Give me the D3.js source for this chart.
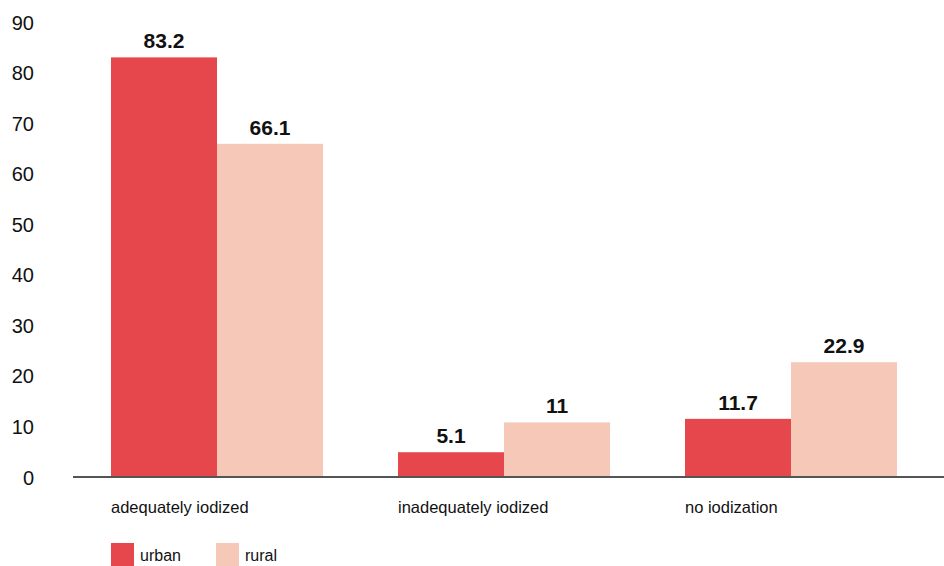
<!DOCTYPE html>
<html>
<head>
<meta charset="utf-8">
<script src="https://cdn.jsdelivr.net/npm/d3@7"></script>
<style>
  html, body { margin: 0; padding: 0; background: #fff; }
  svg { display: block; }
  text { font-family: "Liberation Sans", Arial, sans-serif; fill: #111; }
</style>
</head>
<body>
<svg id="chart" width="944" height="566"></svg>
<script>
// Salt iodization by residence (%)
const categories = ["adequately iodized", "inadequately iodized", "no iodization"];
const seriesNames = ["urban", "rural"];
const urban = [83.2, 5.1, 11.7];
const rural = [66.1, 11, 22.9];
const yTicks = [0, 10, 20, 30, 40, 50, 60, 70, 80, 90];
const colors = ["#e6474d", "#f6c8b8"];

const svg = d3.select("#chart");
const W = 944;

const x0 = d3.scaleBand().domain(categories).range([111, 111 + 287 * 3]).paddingInner(0).paddingOuter(0);
const x1 = d3.scaleBand().domain(seriesNames).range([0, 212]);
const y = d3.scaleLinear().domain([0, 90]).range([478, 23]);

// y axis labels (no line, no ticks)
const yAxis = d3.axisLeft(y).tickValues(yTicks).tickSize(0).tickPadding(0);
const gy = svg.append("g").attr("transform", "translate(34,0)").call(yAxis);
gy.select(".domain").remove();
gy.selectAll("text")
  .attr("font-family", "Liberation Sans, Arial, sans-serif")
  .attr("font-size", 20)
  .attr("fill", "#2a2a2a")
  .attr("dy", "0.3em");

// bars
const rows = categories.map((c, i) => ({ cat: c, values: [urban[i], rural[i]] }));
const groups = svg.append("g").selectAll("g").data(rows).join("g")
  .attr("transform", d => `translate(${x0(d.cat)},0)`);

groups.selectAll("rect").data(d => d.values.map((v, j) => ({ key: seriesNames[j], v, j })))
  .join("rect")
  .attr("x", d => x1(d.key))
  .attr("width", x1.bandwidth())
  .attr("y", d => y(d.v))
  .attr("height", d => y(0) - y(d.v))
  .attr("fill", d => colors[d.j]);

groups.selectAll("text.val").data(d => d.values.map((v, j) => ({ key: seriesNames[j], v, j })))
  .join("text")
  .attr("class", "val")
  .attr("x", d => x1(d.key) + x1.bandwidth() / 2)
  .attr("y", d => y(d.v) - 9)
  .attr("text-anchor", "middle")
  .attr("font-size", 21)
  .attr("font-weight", "bold")
  .attr("fill", "#000")
  .text(d => d3.format("~g")(d.v));

// baseline
svg.append("line")
  .attr("x1", 73).attr("x2", W)
  .attr("y1", y(0) - 1).attr("y2", y(0) - 1)
  .attr("stroke", "#555").attr("stroke-width", 2);

// category labels
svg.append("g").selectAll("text").data(categories).join("text")
  .attr("x", d => x0(d))
  .attr("y", 513)
  .attr("font-size", 16.5)
  .attr("fill", "#222")
  .text(d => d);

// legend
const legend = svg.append("g").selectAll("g").data(seriesNames).join("g")
  .attr("transform", (d, i) => `translate(${111 + i * 105},543)`);
legend.append("rect").attr("width", 23).attr("height", 23).attr("fill", (d, i) => colors[i]);
legend.append("text").attr("x", 29).attr("y", 18).attr("font-size", 16).attr("fill", "#222").text(d => d);
</script>
</body>
</html>
